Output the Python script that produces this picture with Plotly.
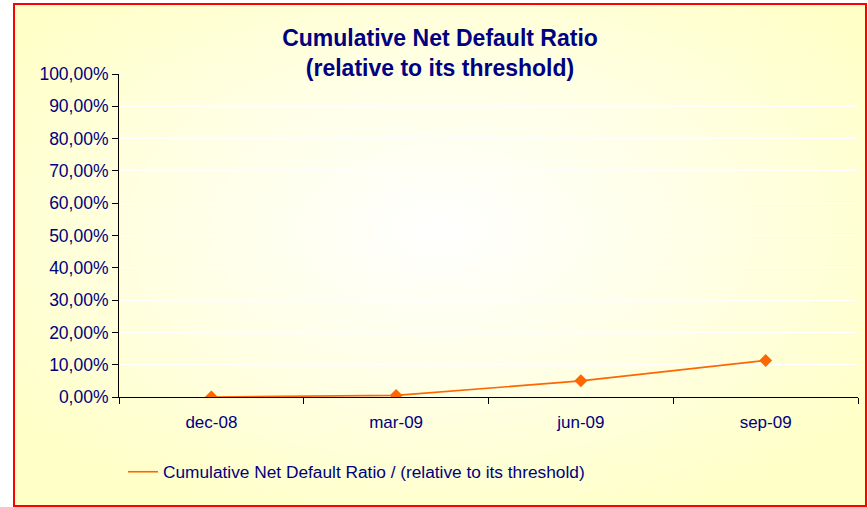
import base64
import plotly.graph_objects as go

categories = ["dec-08", "mar-09", "jun-09", "sep-09"]
values = [0.0, 0.5, 5.0, 11.3]
series_name = "Cumulative Net Default Ratio / (relative to its threshold)"
ytick_vals = [0, 10, 20, 30, 40, 50, 60, 70, 80, 90, 100]
ytick_text = ["0,00%", "10,00%", "20,00%", "30,00%", "40,00%", "50,00%",
              "60,00%", "70,00%", "80,00%", "90,00%", "100,00%"]

W, H = 868, 507
L, R, T, B = 119, 10, 74, 110
pw, ph = W - L - R, H - T - B

def px_x(x):
    return (x - L) / pw

def px_y(y):
    return (H - B - y) / ph

svg = ('<svg xmlns="http://www.w3.org/2000/svg" width="852" height="502" viewBox="0 0 852 502" preserveAspectRatio="none">'
       '<defs><radialGradient id="g" cx="0.5" cy="0.45" r="0.62">'
       '<stop offset="0" stop-color="#FFFFFF"/><stop offset="0.5" stop-color="#FFFFE6"/>'
       '<stop offset="1" stop-color="#FFFFC8"/></radialGradient></defs>'
       '<rect width="852" height="502" fill="url(#g)"/></svg>')
src = "data:image/svg+xml;base64," + base64.b64encode(svg.encode()).decode()

navy = "#000080"
orange = "#FF6600"
font = "Liberation Sans, Arial, sans-serif"

fig = go.Figure()
fig.add_trace(go.Scatter(
    x=categories, y=values, mode="lines", name=series_name,
    line=dict(color=orange, width=1.6),
))
fig.add_trace(go.Scatter(
    x=categories, y=values, mode="markers", showlegend=False,
    marker=dict(symbol="diamond", size=10, color=orange),
))

bx0, bx1, by0, by1 = 14, 866, 4, 506
fig.add_layout_image(dict(
    source=src, xref="paper", yref="paper",
    x=px_x(bx0), y=px_y(by0), sizex=px_x(bx1) - px_x(bx0), sizey=px_y(by0) - px_y(by1),
    sizing="stretch", layer="below", xanchor="left", yanchor="top"))
fig.add_shape(type="rect", xref="paper", yref="paper",
              x0=px_x(bx0), x1=px_x(bx1), y0=px_y(by1), y1=px_y(by0),
              line=dict(color="#FF0000", width=2), fillcolor="rgba(0,0,0,0)", layer="above")

fig.update_layout(
    width=W, height=H,
    margin=dict(l=L, r=R, t=T, b=B),
    paper_bgcolor="white", plot_bgcolor="rgba(0,0,0,0)",
    font=dict(family=font, color=navy, size=17),
    title=dict(text="<b>Cumulative Net Default Ratio<br>(relative to its threshold)</b>",
               x=440 / W, xanchor="center", y=1 - 46 / H, yanchor="middle",
               font=dict(size=23, color=navy, family=font)),
    showlegend=True,
    legend=dict(orientation="h", x=px_x(123), xanchor="left", y=px_y(472), yanchor="middle",
                bgcolor="rgba(0,0,0,0)", font=dict(size=17.3, color=navy, family=font)),
    xaxis=dict(type="category", range=[-0.5, 3.5], showgrid=False, showline=True,
               linecolor="#000000", linewidth=1, ticks="outside", tickson="boundaries",
               ticklen=6, tickcolor="#000000", tickfont=dict(size=17, color=navy),
               ticklabelstandoff=10, zeroline=False),
    yaxis=dict(range=[0, 100], tickvals=ytick_vals, ticktext=ytick_text, showgrid=True,
               gridcolor="#FFFFFF", gridwidth=1, showline=True, linecolor="#000000", linewidth=1,
               ticks="outside", ticklen=6, tickcolor="#000000", zeroline=False,
               tickfont=dict(size=17.5, color=navy)),
)

fig.write_html("out.html", config={"displayModeBar": False},
               post_script="document.body.style.margin='0';")
